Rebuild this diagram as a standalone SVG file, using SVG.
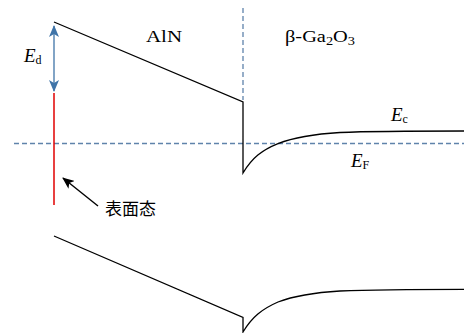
<svg xmlns="http://www.w3.org/2000/svg" width="464" height="333" viewBox="0 0 464 333">
<defs>
<style>
.band{fill:none;stroke:#000;stroke-width:1.3}
.dash{fill:none;stroke:#5f83ab;stroke-width:1.3;stroke-dasharray:5 3}
.t{font-family:"Liberation Serif",serif;fill:#000}
.it{font-style:italic}
.cjk{font-family:"Noto Sans CJK SC",sans-serif;fill:#000}
</style>
<marker id="bh" viewBox="0 0 12 10" refX="11" refY="5" markerWidth="12" markerHeight="10" markerUnits="userSpaceOnUse" orient="auto-start-reverse">
<path d="M0,0 L12,5 L0,10 L3,5 Z" fill="#3f74a8"/>
</marker>
<marker id="kh" viewBox="0 0 12 10" refX="11" refY="5" markerWidth="12" markerHeight="10" markerUnits="userSpaceOnUse" orient="auto">
<path d="M0,0 L12,5 L0,10 L3,5 Z" fill="#000"/>
</marker>
</defs>
<rect width="464" height="333" fill="#fff"/>
<g id="connectors">
<line class="dash" x1="14" y1="143.5" x2="464" y2="143.5"/>
<line class="dash" x1="243" y1="8" x2="243" y2="100"/>
<line x1="54" y1="91" x2="54" y2="26" stroke="#3f74a8" stroke-width="1.3" marker-start="url(#bh)" marker-end="url(#bh)"/>
<line x1="54" y1="93" x2="54" y2="205" stroke="#e00000" stroke-width="1.5"/>
<line x1="98" y1="206" x2="63" y2="178" stroke="#000" stroke-width="1.5" marker-end="url(#kh)"/>
</g>
<g id="conduction-band">
<path class="band" d="M54,22 L243,102 L243,173 C252,158 262,150 278,143.6 C295,137 315,134 340,132.5 C370,131.2 420,131 464,131"/>
</g>
<g id="valence-band">
<path class="band" d="M54,236 L243,317.5 L243,332 C252,317 262,309 278,302 C295,295.5 315,292.5 340,291 C370,289.7 420,289.3 464,289.3"/>
</g>
<g id="labels">
<text class="t" x="146" y="42" font-size="17" textLength="36" lengthAdjust="spacingAndGlyphs">AlN</text>
<text class="t" x="285" y="42" font-size="17" textLength="70" lengthAdjust="spacingAndGlyphs">β-Ga<tspan font-size="12" dy="3">2</tspan><tspan dy="-3">O</tspan><tspan font-size="12" dy="3">3</tspan></text>
<text class="t" x="24" y="62" font-size="19"><tspan class="it">E</tspan><tspan font-size="12" dy="2">d</tspan></text>
<text class="t" x="391" y="121" font-size="19"><tspan class="it">E</tspan><tspan font-size="12" dy="2">c</tspan></text>
<text class="t" x="351" y="167" font-size="19"><tspan class="it">E</tspan><tspan font-size="12" dy="2">F</tspan></text>
<text class="cjk" x="105" y="215" font-size="17">表面态</text>
</g>
</svg>
